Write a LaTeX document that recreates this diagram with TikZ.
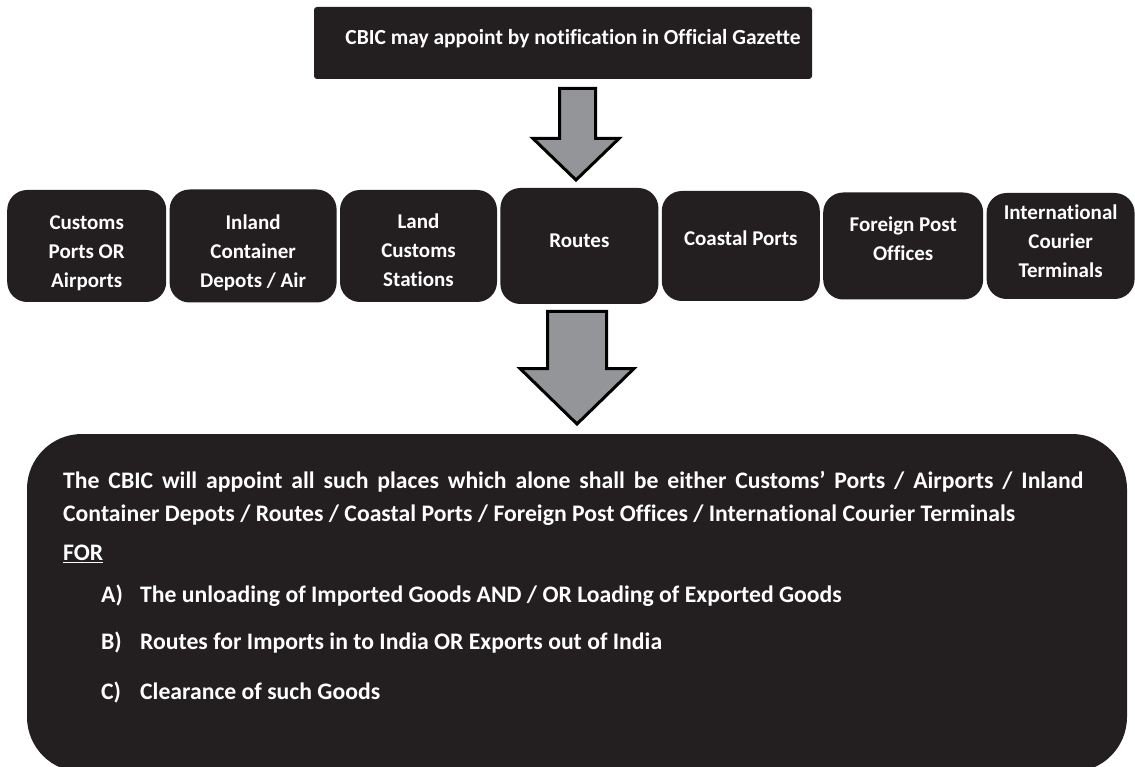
\documentclass[tikz,border=0pt]{standalone}
\usepackage{fontspec}
\setmainfont{Carlito}[Ligatures=NoCommon]
\usetikzlibrary{positioning}
\definecolor{BoxBlack}{RGB}{35,31,32}
\definecolor{ArrowGray}{RGB}{147,149,152}
% lines of a box, moved up or down by #1 without changing the box size
\newcommand{\placetext}[2]{\raisebox{#1}[\height][\depth]{\begin{tabular}{@{}c@{}}#2\end{tabular}}}
\tikzset{
  headbox/.style={fill=BoxBlack,rounded corners=3pt,text=white,font=\bfseries\fontsize{21.5}{29}\selectfont,minimum width=498pt,minimum height=72pt,inner sep=0pt},
  placebox/.style={fill=BoxBlack,rounded corners=20pt,text=white,font=\bfseries\fontsize{21}{29}\selectfont,inner sep=2pt},
  scopebox/.style={fill=BoxBlack,rounded corners=55pt,minimum width=1100pt,minimum height=338pt},
  scopetext/.style={text=white,font=\bfseries\fontsize{23.7}{33}\selectfont,inner sep=0pt},
  blockarrow/.style={draw=black,fill=ArrowGray,line width=3pt,line join=miter}
}

\begin{document}
\begin{tikzpicture}[x=1pt,y=-1pt,node distance=3pt]
\useasboundingbox (0,0) rectangle (1135,767);
\node[headbox] (gazette) at (563,43) {\placetext{4.5pt}{\hspace*{20pt}CBIC may appoint by notification in Official Gazette}};
% places that may be appointed
\node[placebox,minimum width=159pt,minimum height=112pt,anchor=west] (ports) at (7,246) {\placetext{-7pt}{Customs\\Ports OR\\Airports}};
\node[placebox,minimum width=167pt,minimum height=113pt,right=of ports] (icd) {\placetext{-7pt}{Inland\\Container\\Depots / Air}};
\node[placebox,minimum width=157pt,minimum height=112pt,right=of icd] (lcs) {\placetext{-6pt}{Land\\Customs\\Stations}};
\node[placebox,minimum width=158pt,minimum height=116pt,right=of lcs] (routes) {\placetext{4pt}{Routes}};
\node[placebox,minimum width=158pt,minimum height=110pt,right=of routes] (coastal) {\placetext{6pt}{Coastal Ports}};
\node[placebox,minimum width=160pt,minimum height=107pt,right=of coastal] (fpo) {\placetext{5.5pt}{Foreign Post\\Offices}};
\node[placebox,minimum width=148pt,minimum height=106pt,right=of fpo] (courier) {\placetext{3pt}{International\\Courier\\Terminals}};
% block arrows
\draw[blockarrow] (559.5,88.5) -- (595.5,88.5) -- (595.5,138.5) -- (619,138.5) -- (576,180) -- (533,138.5) -- (559.5,138.5) -- cycle;
\draw[blockarrow] (547.5,311.5) -- (606.5,311.5) -- (606.5,368.5) -- (634,368.5) -- (577,424) -- (520,368.5) -- (547.5,368.5) -- cycle;
% result box
\node[scopebox] (scope) at (577,603) {};
\node[scopetext,text width=1020pt,align=justify,anchor=north west] (appoint) at (63,471) {The CBIC will appoint all such places which alone shall be either Customs’ Ports / Airports / Inland\linebreak Container Depots / Routes / Coastal Ports / Foreign Post Offices / International Courier Terminals};
\node[scopetext,anchor=base west] (for) at (63,560.6) {\underline{FOR}};
\node[scopetext,anchor=base west] (itema) at (101,602.6) {\makebox[39pt][l]{A)}The unloading of Imported Goods AND / OR Loading of Exported Goods};
\node[scopetext,anchor=base west] (itemb) at (101,649.6) {\makebox[39pt][l]{B)}Routes for Imports in to India OR Exports out of India};
\node[scopetext,anchor=base west] (itemc) at (101,699.6) {\makebox[39pt][l]{C)}Clearance of such Goods};
\end{tikzpicture}
\end{document}
